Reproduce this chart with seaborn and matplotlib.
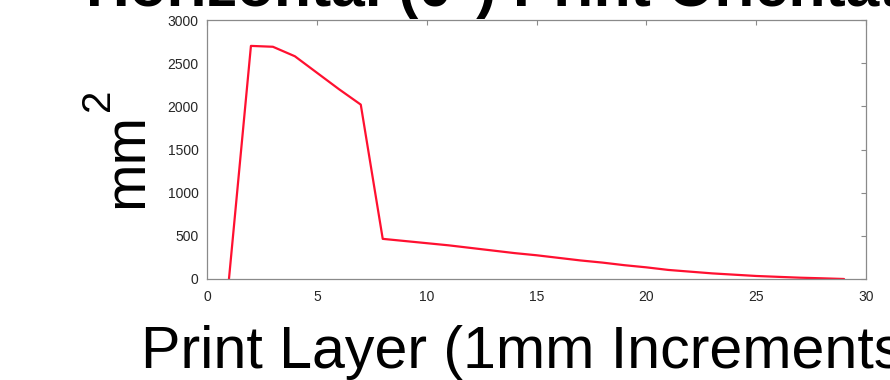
import matplotlib
matplotlib.use("Agg")
import matplotlib.pyplot as plt
import seaborn as sns
import pandas as pd

# Cross-sectional area per print layer
layers = list(range(1, 30))
area_mm2 = [0, 2700, 2690, 2580, 2390, 2200, 2020, 465, 440, 415,
            390, 360, 330, 300, 275, 245, 215, 190, 160, 135,
            105, 85, 65, 50, 35, 25, 15, 8, 0]

title_text = "Horizontal (0°) Print Orientation"
xlabel_text = "Print Layer (1mm Increments)"
x_ticks = [0, 5, 10, 15, 20, 25, 30]
y_ticks = [0, 500, 1000, 1500, 2000, 2500, 3000]

sns.set_style("white")
plt.rcParams["font.family"] = ["Liberation Sans", "DejaVu Sans"]

df = pd.DataFrame({"layer": layers, "area": area_mm2})

W, H = 890, 380
fig = plt.figure(figsize=(W / 100, H / 100), dpi=100)
ax = fig.add_axes([207 / W, 1 - 279 / H, (866 - 207) / W, (279 - 20) / H])

sns.lineplot(data=df, x="layer", y="area", ax=ax, color="#ff1030",
             linewidth=1.6, estimator=None, sort=False)

ax.set_xlim(0, 30)
ax.set_ylim(0, 3000)
ax.set_xticks(x_ticks)
ax.set_yticks(y_ticks)
ax.set_xticklabels([str(t) for t in x_ticks])
ax.set_yticklabels([str(t) for t in y_ticks])
ax.set_xlabel("")
ax.set_ylabel("")

for side in ["top", "right", "bottom", "left"]:
    ax.spines[side].set_visible(True)
    ax.spines[side].set_color("#8a8a8a")
    ax.spines[side].set_linewidth(0.9)

ax.tick_params(axis="both", which="major", direction="in", length=3.5,
               width=0.8, color="#8a8a8a", labelsize=10,
               labelcolor="#262626", top=True, right=True)
ax.tick_params(axis="x", pad=8)
ax.tick_params(axis="y", pad=6)

# Title, partly above the top edge of the canvas
fig.text(86 / W, 1 - 6 / H, title_text, fontsize=43.6, fontweight="bold",
         ha="left", va="baseline", color="black")

# Axis label below the plot
fig.text(141 / W, 1 - 368 / H, xlabel_text, fontsize=42.6,
         ha="left", va="baseline", color="black")

# Vertical unit label: mm with a superscript 2
fig.text(142 / W, 1 - 208 / H, "mm", fontsize=41.0, rotation=90,
         rotation_mode="anchor", ha="left", va="baseline", color="black")
fig.text(109 / W, 1 - 111 / H, "2", fontsize=29.0, rotation=90,
         rotation_mode="anchor", ha="left", va="baseline", color="black")

fig.savefig("out.png", dpi=100, facecolor="white")
